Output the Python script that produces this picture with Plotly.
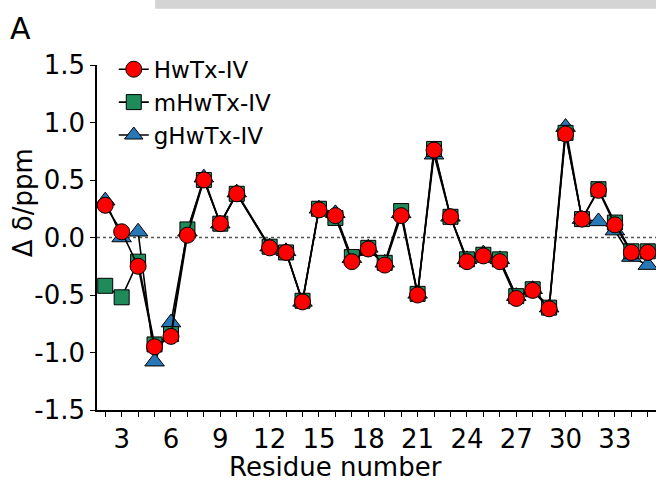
import plotly.graph_objects as go

residues = [2, 3, 4, 5, 6, 7, 8, 9, 10, 12, 13, 14, 15, 16, 17, 18, 19, 20, 21,
            22, 23, 24, 25, 26, 27, 28, 29, 30, 31, 32, 33, 34, 35]
hwtx = [0.28, 0.05, -0.25, -0.95, -0.86, 0.02, 0.50, 0.12, 0.38, -0.09, -0.13,
        -0.56, 0.24, 0.19, -0.21, -0.10, -0.24, 0.19, -0.50, 0.76, 0.18, -0.21,
        -0.16, -0.21, -0.53, -0.46, -0.62, 0.90, 0.16, 0.41, 0.11, -0.13, -0.13]
mhwtx = [-0.42, -0.52, -0.21, -0.93, -0.84, 0.07, 0.50, 0.12, 0.38, -0.08, -0.13,
         -0.55, 0.25, 0.17, -0.17, -0.09, -0.22, 0.23, -0.49, 0.77, 0.18, -0.19,
         -0.15, -0.19, -0.51, -0.45, -0.61, 0.91, 0.16, 0.42, 0.13, -0.12, -0.12]
ghwtx = [0.32, 0.00, 0.05, -1.08, -0.74, 0.05, 0.52, 0.12, 0.39, -0.08, -0.12,
         -0.56, 0.25, 0.21, -0.18, -0.09, -0.22, 0.21, -0.49, 0.72, 0.18, -0.19,
         -0.14, -0.19, -0.51, -0.45, -0.61, 0.96, 0.16, 0.14, 0.06, -0.17, -0.24]

x_tickvals = [3, 6, 9, 12, 15, 18, 21, 24, 27, 30, 33]
x_ticktext = [str(v) for v in x_tickvals]
y_tickvals = [-1.5, -1.0, -0.5, 0.0, 0.5, 1.0, 1.5]
y_ticktext = ["-1.5", "-1.0", "-0.5", "0.0", "0.5", "1.0", "1.5"]

FONT = "DejaVu Sans"

fig = go.Figure()
fig.add_trace(go.Scatter(x=residues, y=ghwtx, name="gHwTx-IV", mode="lines+markers",
                         line=dict(color="black", width=1.6),
                         marker=dict(symbol="triangle-up", size=17, color="#2878b8",
                                     line=dict(color="black", width=1)),
                         legendrank=3, cliponaxis=False))
fig.add_trace(go.Scatter(x=residues, y=mhwtx, name="mHwTx-IV", mode="lines+markers",
                         line=dict(color="black", width=1.6),
                         marker=dict(symbol="square", size=15, color="#1f8b5a",
                                     line=dict(color="black", width=1)),
                         legendrank=2, cliponaxis=False))
fig.add_trace(go.Scatter(x=residues, y=hwtx, name="HwTx-IV", mode="lines+markers",
                         line=dict(color="black", width=1.6),
                         marker=dict(symbol="circle", size=16, color="#ff0000",
                                     line=dict(color="black", width=1)),
                         legendrank=1, cliponaxis=False))

fig.add_shape(type="line", xref="paper", yref="y", x0=0, x1=1, y0=0, y1=0,
              line=dict(color="#555555", width=1.5, dash="dot"), layer="below")
fig.add_shape(type="rect", xref="paper", yref="paper", x0=0.104, x1=1.0,
              y0=1.163, y1=1.19, fillcolor="#d4d4d4", line=dict(width=0))

fig.add_annotation(text="A", xref="paper", yref="paper", x=-0.16, y=1.107,
                   xanchor="left", yanchor="middle", showarrow=False,
                   font=dict(family=FONT, size=30, color="black"))
fig.add_annotation(text="Δ δ/ppm", xref="paper", yref="paper", x=-0.132, y=0.6,
                   xanchor="center", yanchor="middle", textangle=-90, showarrow=False,
                   font=dict(family=FONT, size=26, color="black"))
fig.add_annotation(text="Residue number", xref="paper", yref="paper", x=0.426, y=-0.165,
                   xanchor="center", yanchor="middle", showarrow=False,
                   font=dict(family=FONT, size=26, color="black"))

fig.update_layout(
    width=656, height=486,
    margin=dict(l=97, r=0, t=65, b=76, autoexpand=False),
    paper_bgcolor="white", plot_bgcolor="white",
    font=dict(family=FONT, size=26, color="black"),
    showlegend=True,
    legend=dict(x=0.03, y=1.05, xanchor="left", yanchor="top",
                bgcolor="rgba(0,0,0,0)", font=dict(family=FONT, size=23),
                itemwidth=30, tracegroupgap=0),
    xaxis=dict(range=[1.5, 35.5], tickvals=x_tickvals, ticktext=x_ticktext,
               showgrid=False, zeroline=False, showline=True, linecolor="black",
               linewidth=1.5, ticks="outside", ticklen=5, tickwidth=1.3, tickcolor="black",
               minor=dict(dtick=1, tick0=0, ticks="outside", ticklen=5, tickwidth=1.3,
                          tickcolor="black", showgrid=False),
               tickfont=dict(family=FONT, size=26)),
    yaxis=dict(range=[-1.5, 1.5], tickvals=y_tickvals, ticktext=y_ticktext,
               showgrid=False, zeroline=False, showline=True, linecolor="black",
               linewidth=1.5, ticks="outside", ticklen=5, tickwidth=1.3, tickcolor="black",
               tickfont=dict(family=FONT, size=26)),
)

fig.write_html("out.html", config={"displayModeBar": False},
               post_script="document.body.style.margin='0';document.body.style.padding='0';")
